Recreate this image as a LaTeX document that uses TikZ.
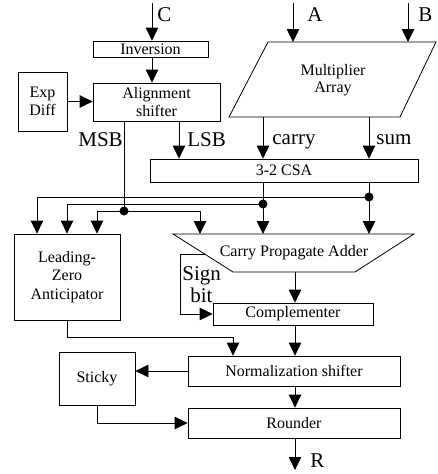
\documentclass[tikz,border=0pt]{standalone}
\usepackage{fontspec}
\setmainfont{Liberation Serif}
\usetikzlibrary{arrows.meta}
\begin{document}
\begin{tikzpicture}[x=1pt,y=-1pt,
  line width=0.8pt,
  box/.style={draw, line width=0.8pt, inner sep=0pt, font=\fontsize{16}{18.5}\selectfont, align=center},
  lbl/.style={inner sep=0pt, font=\fontsize{21}{22}\selectfont, anchor=base west},
  arr/.style={-{Triangle[length=13pt,width=12.5pt]}},
  dot/.style={circle, fill, inner sep=0pt, minimum size=9pt}]
\useasboundingbox (0,0) rectangle (438,474);

% boxes
\node[box, minimum width=115, minimum height=16] (inv) at (150.5,49) {Inversion};
\node[box, minimum width=127, minimum height=38] (align) at (156.5,102) {Alignment\\shifter};
\node[box, minimum width=49, minimum height=59] (exp) at (42.5,101.5) {Exp\\Diff};
\node[box, minimum width=268, minimum height=23] (csa) at (284,170.5) {3-2 CSA};
\node[box, minimum width=106, minimum height=86] (lza) at (67,277) {Leading-\\Zero\\Anticipator};
\node[box, minimum width=160, minimum height=22] (comp) at (293,314) {Complementer};
\node[box, minimum width=212, minimum height=30] (norm) at (294,371) {Normalization shifter};
\node[box, minimum width=76, minimum height=53] (sticky) at (97,378.5) {Sticky};
\node[box, minimum width=212, minimum height=30] (round) at (294,423) {Rounder};

% multiplier array
\coordinate (m1) at (268,42);
\coordinate (m2) at (436,42);
\coordinate (m3) at (400,117);
\coordinate (m4) at (229,117);
\draw (m1) -- (m2) -- (m3) -- (m4) -- cycle;
\node[inner sep=0pt, align=center, font=\fontsize{16}{17}\selectfont] (mul) at (333,80) {Multiplier\\Array};

% carry propagate adder
\coordinate (p1) at (173,234);
\coordinate (p2) at (414,234);
\coordinate (p3) at (355,272);
\coordinate (p4) at (233,272);
\draw (p1) -- (p2) -- (p3) -- (p4) -- cycle;
\node[inner sep=0pt, font=\fontsize{16}{18.5}\selectfont] (cpa) at (294,253) {Carry Propagate Adder};

% inputs
\coordinate (cin) at (152,3);
\coordinate (ain) at (293,3);
\coordinate (bin) at (408,3);
\draw[arr] (cin) -- (cin |- inv.north);
\draw[arr] (cin |- inv.south) -- (cin |- align.north);
\draw[arr] (ain) -- (ain |- m1);
\draw[arr] (bin) -- (bin |- m1);
\draw[arr] (exp.east) -- (exp.east -| align.west);

% multiplier outputs
\coordinate (cx) at (263,117);
\coordinate (sx) at (369,117);
\draw[arr] (cx) -- (cx |- csa.north);
\draw[arr] (sx) -- (sx |- csa.north);

% LSB / MSB
\coordinate (lsb) at (179,121);
\draw[arr] (lsb) -- (lsb |- csa.north);
\coordinate (msb) at (124,121);
\node[dot] (d1) at (124,211) {};
\draw (msb) -- (d1.center);
\coordinate (t1) at (97,211);
\coordinate (t2) at (200,211);
\draw[arr] (d1.center) -- (t1) -- (t1 |- lza.north);
\draw[arr] (d1.center) -- (t2) -- (t2 |- p1);

% carry bus
\node[dot] (d2) at (263,204) {};
\coordinate (t3) at (67,204);
\draw (cx |- csa.south) -- (d2.center);
\draw[arr] (d2.center) -- (d2.center |- p1);
\draw[arr] (d2.center) -- (t3) -- (t3 |- lza.north);

% sum bus
\node[dot] (d3) at (369,197) {};
\coordinate (t4) at (37,197);
\draw (sx |- csa.south) -- (d3.center);
\draw[arr] (d3.center) -- (d3.center |- p1);
\draw[arr] (d3.center) -- (t4) -- (t4 |- lza.north);

% sign bit
\coordinate (sb) at (204.6,254);
\coordinate (sc) at (180,254);
\draw[arr] (sb) -- (sc) |- (comp.west);

% main chain
\coordinate (mx) at (295,272);
\draw[arr] (mx) -- (mx |- comp.north);
\draw[arr] (mx |- comp.south) -- (mx |- norm.north);
\draw[arr] (mx |- norm.south) -- (mx |- round.north);
\coordinate (rout) at (295,470);
\draw[arr] (mx |- round.south) -- (rout);

% LZA to normalization
\coordinate (lz1) at (67,337);
\coordinate (lz2) at (233,337);
\draw[arr] (lza.south) -- (lz1) -- (lz2) -- (lz2 |- norm.north);

% sticky
\draw[arr] (norm.west) -- (norm.west -| sticky.east);
\draw[arr] (sticky.south) |- (round.west);

% labels
\node[lbl] (lc) at (157,21.5) {C};
\node[lbl] (la) at (307,21.5) {A};
\node[lbl] (lb) at (418,21.5) {B};
\node[lbl] (lmsb) at (78,146) {MSB};
\node[lbl] (llsb) at (187,146) {LSB};
\node[lbl] (lcarry) at (272,144) {carry};
\node[lbl] (lsum) at (376,144) {sum};
\node[lbl] (lr) at (310,467) {R};
\node[lbl] (lsign) at (182,280) {Sign};
\node[lbl] (lbit) at (190,302) {bit};
\end{tikzpicture}
\end{document}
